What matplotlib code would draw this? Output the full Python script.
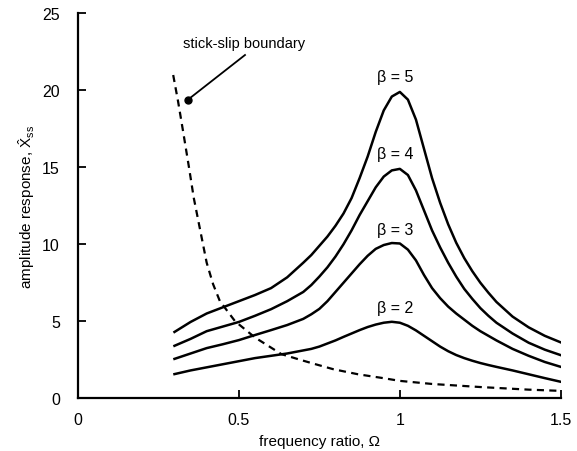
import matplotlib
matplotlib.use("Agg")
import matplotlib.pyplot as plt

plt.rcParams["font.family"] = ["Liberation Sans", "DejaVu Sans"]
plt.rcParams["mathtext.fontset"] = "custom"
plt.rcParams["mathtext.rm"] = "Liberation Sans"
plt.rcParams["mathtext.it"] = "Liberation Sans"

# frequency ratio values shared by the response curves
omega = [0.30, 0.35, 0.40, 0.45, 0.50, 0.55, 0.60, 0.65,
         0.70, 0.725, 0.75, 0.775, 0.80, 0.825, 0.85, 0.875, 0.90, 0.925,
         0.95, 0.975, 1.00, 1.025, 1.05, 1.075, 1.10, 1.125, 1.15, 1.175,
         1.20, 1.225, 1.25, 1.275, 1.30, 1.35, 1.40, 1.45, 1.50]

# amplitude response, one list per beta
beta5 = [4.3, 4.95, 5.5, 5.9, 6.3, 6.7, 7.15, 7.85,
         8.8, 9.3, 9.9, 10.5, 11.2, 12.0, 13.0, 14.3, 15.7, 17.3,
         18.7, 19.6, 19.9, 19.4, 18.1, 16.2, 14.3, 12.7, 11.3, 10.1,
         9.1, 8.25, 7.5, 6.85, 6.25, 5.3, 4.6, 4.05, 3.62]
beta4 = [3.4, 3.85, 4.35, 4.65, 4.95, 5.35, 5.78, 6.3,
         6.9, 7.35, 7.9, 8.5, 9.2, 10.0, 10.9, 11.9, 12.8, 13.7,
         14.4, 14.8, 14.9, 14.5, 13.5, 12.2, 10.9, 9.8, 8.8, 7.9,
         7.1, 6.45, 5.85, 5.35, 4.9, 4.2, 3.6, 3.15, 2.79]
beta3 = [2.55, 2.9, 3.25, 3.5, 3.77, 4.1, 4.42, 4.75,
         5.15, 5.45, 5.8, 6.3, 6.9, 7.5, 8.1, 8.7, 9.25, 9.7,
         9.95, 10.08, 10.05, 9.65, 8.95, 8.0, 7.15, 6.5, 5.95, 5.5,
         5.1, 4.7, 4.35, 4.05, 3.75, 3.2, 2.75, 2.35, 2.03]
beta2 = [1.56, 1.8, 2.0, 2.2, 2.4, 2.6, 2.75, 2.9,
         3.1, 3.2, 3.35, 3.55, 3.75, 3.98, 4.2, 4.42, 4.62, 4.78,
         4.9, 4.96, 4.9, 4.7, 4.4, 4.05, 3.7, 3.35, 3.05, 2.8,
         2.6, 2.43, 2.28, 2.15, 2.03, 1.8, 1.55, 1.3, 1.06]

betas = [5, 4, 3, 2]
curves = [beta5, beta4, beta3, beta2]
label_y = [20.4, 15.4, 10.5, 5.4]

# stick-slip boundary (dashed)
omega_b = [0.296, 0.311, 0.327, 0.345, 0.36, 0.379, 0.40, 0.42, 0.441, 0.452,
           0.488, 0.55, 0.632, 0.689, 0.73, 0.793, 0.87, 0.948, 1.0, 1.1,
           1.25, 1.4, 1.5]
amp_b = [21.0, 19.3, 17.3, 15.0, 13.0, 11.0, 8.8, 7.4, 6.3, 6.0,
         5.0, 3.94, 2.86, 2.5, 2.25, 1.88, 1.55, 1.3, 1.12, 0.92,
         0.72, 0.55, 0.47]

fig = plt.figure(figsize=(5.77, 4.52), dpi=100)
ax = fig.add_axes([0.135, 0.117, 0.837, 0.851])

for b, y, ly in zip(betas, curves, label_y):
    ax.plot(omega, y, color="black", lw=1.8, solid_joinstyle="round")
    ax.text(0.985, ly, "\u03b2 = %d" % b, ha="center", va="bottom", fontsize=11.5)

ax.plot(omega_b, amp_b, color="black", lw=1.6, linestyle=(0, (3.2, 2.4)))

# annotation for the boundary
ax.plot([0.342], [19.4], "o", color="black", ms=5)
ax.plot([0.342, 0.519], [19.4, 22.3], color="black", lw=1.3)
ax.text(0.326, 23.1, "stick-slip boundary", ha="left", va="center", fontsize=10.5)

ax.set_xlim(0, 1.5)
ax.set_ylim(0, 25)
ax.set_xticks([0, 0.5, 1, 1.5])
ax.set_xticklabels(["0", "0.5", "1", "1.5"])
ax.set_yticks([0, 5, 10, 15, 20, 25])
ax.spines["top"].set_visible(False)
ax.spines["right"].set_visible(False)
ax.spines["left"].set_linewidth(1.6)
ax.spines["bottom"].set_linewidth(1.6)
ax.tick_params(axis="x", direction="in", length=6, width=1.3, pad=10, labelsize=11.5)
ax.tick_params(axis="y", direction="in", length=6, width=1.3, pad=13, labelsize=11.5)

ax.set_xlabel("frequency ratio, \u03a9", fontsize=11, labelpad=5)
ax.set_ylabel(r"amplitude response, $\hat{\mathrm{X}}_{\mathrm{ss}}$", fontsize=11, labelpad=4)

fig.savefig("out.png", dpi=100)
